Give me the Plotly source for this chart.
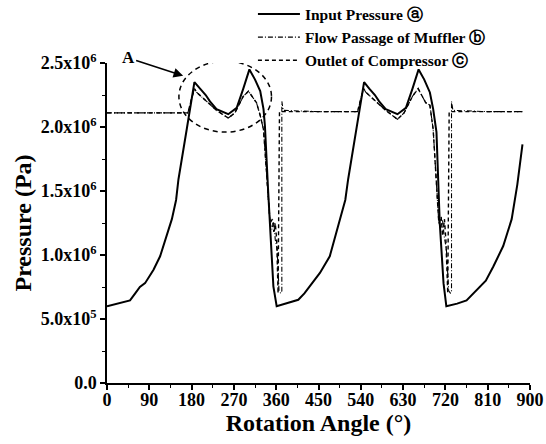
import plotly.graph_objects as go

# ---------------- DATA ----------------
# Input pressure (a) : rotation angle (deg) and pressure (x1e6 Pa)
angle_input = [0, 20, 49, 60, 70, 81, 99, 113, 127, 138, 147, 152, 170, 186, 198, 210, 219, 233,
               258, 276, 290, 303, 315, 326, 333, 336, 343, 350, 354, 361, 380, 407, 420, 432,
               453, 474, 496, 507, 513, 531, 547, 558, 570, 579, 593, 618, 636, 650, 663, 675,
               687, 694, 701, 708, 713, 716, 722, 745, 765, 780, 794, 806, 822, 843, 861, 873, 884]
p_input = [0.60, 0.62, 0.645, 0.70, 0.75, 0.78, 0.885, 0.99, 1.15, 1.28, 1.43, 1.59, 1.99, 2.35,
           2.30, 2.25, 2.20, 2.14, 2.10, 2.15, 2.30, 2.45, 2.37, 2.28, 2.14, 2.01, 1.49, 0.96,
           0.755, 0.60, 0.62, 0.65, 0.70, 0.755, 0.86, 0.99, 1.28, 1.43, 1.59, 1.99, 2.35, 2.30,
           2.25, 2.20, 2.14, 2.10, 2.15, 2.30, 2.45, 2.37, 2.27, 2.14, 1.96, 1.25, 0.90, 0.78,
           0.60, 0.62, 0.645, 0.70, 0.755, 0.80, 0.91, 1.07, 1.28, 1.55, 1.865]

# Flow passage of muffler (b)
angle_muffler = [0, 100, 172, 180, 186, 191, 215, 233, 258, 272, 290, 301, 318, 326, 333, 340,
                 347, 351, 355, 358, 362, 366, 370, 372, 372, 375, 450, 533, 540, 546, 551, 575,
                 593, 618, 632, 650, 662, 678, 687, 694, 700, 706, 710, 714, 718, 722, 727, 731,
                 733, 733, 736, 810, 884]
p_muffler = [2.11, 2.11, 2.11, 2.22, 2.30, 2.27, 2.19, 2.13, 2.07, 2.11, 2.24, 2.28, 2.19, 2.09,
             1.98, 1.60, 1.25, 1.20, 1.26, 1.12, 1.05, 0.72, 0.70, 0.72, 2.20, 2.13, 2.12, 2.12,
             2.22, 2.30, 2.27, 2.19, 2.13, 2.06, 2.11, 2.24, 2.30, 2.19, 2.17, 1.98, 1.60, 1.25,
             1.22, 1.27, 1.13, 1.05, 0.72, 0.70, 0.72, 2.20, 2.13, 2.12, 2.12]

# Outlet of compressor (c)
angle_outlet = [0, 100, 172, 180, 186, 191, 215, 233, 258, 272, 290, 301, 318, 326, 333, 340,
                347, 352, 355, 358, 361, 364, 367, 450, 533, 540, 546, 551, 575, 593, 618, 632,
                650, 662, 678, 687, 694, 700, 706, 711, 714, 718, 721, 725, 728, 810, 884]
p_outlet = [2.11, 2.11, 2.11, 2.22, 2.30, 2.27, 2.19, 2.13, 2.07, 2.11, 2.24, 2.28, 2.19, 2.09,
            1.98, 1.60, 1.25, 1.28, 1.18, 1.25, 1.12, 0.70, 2.12, 2.12, 2.12, 2.22, 2.30, 2.27,
            2.19, 2.13, 2.06, 2.11, 2.24, 2.30, 2.19, 2.17, 1.98, 1.60, 1.25, 1.30, 1.15, 1.28,
            1.12, 0.70, 2.12, 2.12, 2.12]

x_tickvals = [0, 90, 180, 270, 360, 450, 540, 630, 720, 810, 900]
y_tickvals = [0, 0.5e6, 1.0e6, 1.5e6, 2.0e6, 2.5e6]
y_ticktext = ["0.0", "5.0x10<sup>5</sup>", "1.0x10<sup>6</sup>", "1.5x10<sup>6</sup>",
              "2.0x10<sup>6</sup>", "2.5x10<sup>6</sup>"]

series_names = ["Input Pressure \u24d0", "Flow Passage of Muffler \u24d1", "Outlet of Compressor \u24d2"]

# ---------------- FIGURE ----------------
FONT = "Liberation Serif"
to_pa = lambda vals: [v * 1e6 for v in vals]

fig = go.Figure()
fig.add_trace(go.Scatter(x=angle_outlet, y=to_pa(p_outlet), mode="lines",
                         name=series_names[2], legendrank=3, legendgroup="c",
                         line=dict(color="black", width=1.4, dash="4px,3px")))
fig.add_trace(go.Scatter(x=angle_muffler, y=to_pa(p_muffler), mode="lines",
                         name=series_names[1], legendrank=2, legendgroup="b",
                         line=dict(color="black", width=1.1, dash="5px,2px,1px,2px")))
fig.add_trace(go.Scatter(x=angle_input, y=to_pa(p_input), mode="lines",
                         name=series_names[0], legendrank=1, legendgroup="a",
                         line=dict(color="black", width=2)))

# dashed ellipse around region A
fig.add_shape(type="circle", xref="x", yref="y", x0=153, x1=350, y0=1.96e6, y1=2.515e6,
              line=dict(color="black", width=1.5, dash="5px,4px"))

fig.add_annotation(x=162, y=2.40e6, xref="x", yref="y", text="<b>A</b>",
                   showarrow=True, ax=-55, ay=-18, arrowhead=2, arrowsize=1.2,
                   arrowwidth=1.6, arrowcolor="black",
                   font=dict(family=FONT, size=17, color="black"))

fig.update_layout(
    width=546, height=444,
    margin=dict(l=107, r=16, t=63, b=61, autoexpand=False),
    paper_bgcolor="white", plot_bgcolor="white",
    font=dict(family=FONT, color="black"),
    showlegend=True,
    legend=dict(x=0.345, y=1.205, xanchor="left", yanchor="top", itemwidth=42,
                bgcolor="rgba(0,0,0,0)", tracegroupgap=0,
                font=dict(family=FONT, size=15.5, color="black", weight="bold")),
)
fig.update_xaxes(range=[0, 900], tickvals=x_tickvals, showgrid=False, zeroline=False,
                 automargin=False, ticklabelstandoff=-5,
                 showline=True, linecolor="black", linewidth=1.5,
                 ticks="outside", ticklen=5, tickwidth=1.5, tickcolor="black",
                 minor=dict(ticks="outside", ticklen=3, tickwidth=1, dtick=45, tickcolor="black"),
                 tickfont=dict(family=FONT, size=18, color="black", weight="bold"),
                 title=dict(text="<b>Rotation Angle (\u00b0)</b>", standoff=0,
                            font=dict(family=FONT, size=24, color="black")))
fig.update_yaxes(range=[0, 2.5e6], tickvals=y_tickvals, ticktext=y_ticktext,
                 showgrid=False, zeroline=False, automargin=False,
                 showline=True, linecolor="black", linewidth=1.5,
                 ticks="outside", ticklen=5, tickwidth=1.5, tickcolor="black",
                 minor=dict(ticks="outside", ticklen=3, tickwidth=1, dtick=0.25e6, tickcolor="black"),
                 tickfont=dict(family=FONT, size=18, color="black", weight="bold"),
                 title=dict(text="<b>Pressure (Pa)</b>", standoff=2,
                            font=dict(family=FONT, size=24, color="black")))

fig.write_html("out.html", config={"displayModeBar": False},
               post_script="document.body.style.margin='0';document.body.style.overflow='hidden';")
